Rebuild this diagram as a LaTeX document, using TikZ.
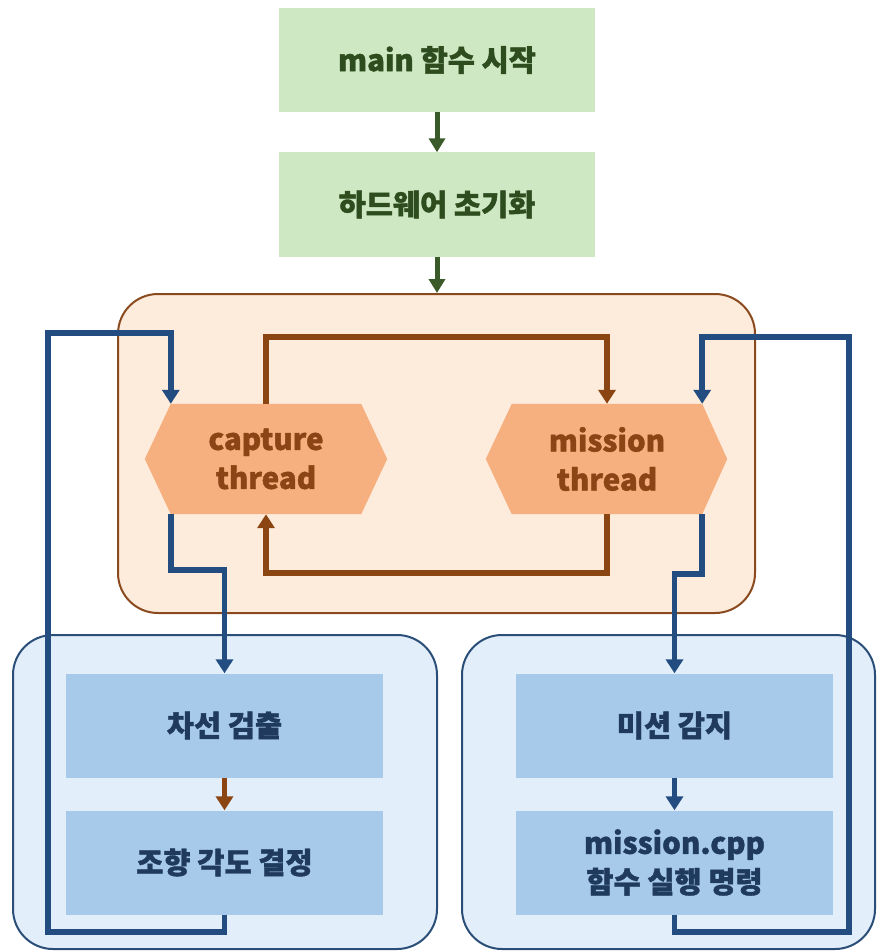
\documentclass[tikz,border=0pt]{standalone}
\usepackage{fontspec}
\setmainfont{Noto Sans CJK KR}[BoldFeatures={FakeBold=1.3}]
\usetikzlibrary{arrows.meta}
\definecolor{gfill}{HTML}{CDE8C2}
\definecolor{gtext}{HTML}{2E4D1F}
\definecolor{garrow}{HTML}{3A5A2A}
\definecolor{ofill}{HTML}{FDEBDB}
\definecolor{oborder}{HTML}{8B4A1E}
\definecolor{hexfill}{HTML}{F6B07F}
\definecolor{btext}{HTML}{8A4415}
\definecolor{barrow}{HTML}{8B4513}
\definecolor{bcfill}{HTML}{E2EEFA}
\definecolor{bcborder}{HTML}{2A4E78}
\definecolor{bbfill}{HTML}{A7C9EA}
\definecolor{bltext}{HTML}{1F3A5C}
\definecolor{blarrow}{HTML}{234D80}
\tikzset{
  txt/.style={font=\bfseries\fontsize{29.5}{39}\selectfont, align=center},
  greenbox/.style={txt, fill=gfill, text=gtext, minimum width=316pt, minimum height=104pt, inner sep=0pt},
  bluebox/.style={txt, fill=bbfill, text=bltext, minimum width=317pt, minimum height=104pt, inner sep=0pt},
  hexnode/.style={txt, text=btext, minimum width=190pt, minimum height=110pt, inner sep=0pt},
  ocont/.style={draw=oborder, fill=ofill, line width=2pt, rounded corners=40pt, inner sep=0pt},
  bcont/.style={draw=bcborder, fill=bcfill, line width=2pt, rounded corners=40pt, inner sep=0pt},
  garr/.style={draw=garrow, line width=5pt, -{Triangle[width=16pt,length=14pt]}},
  brarr/.style={draw=barrow, line width=5.5pt, -{Triangle[width=17pt,length=14pt]}},
  blarr/.style={draw=blarrow, line width=5.5pt, -{Triangle[width=17pt,length=14pt]}},
}
\begin{document}
\begin{tikzpicture}[x=1pt, y=-1pt]
\useasboundingbox (0,0) rectangle (878,952);
% containers
\node[ocont, minimum width=637pt, minimum height=319pt] (thr) at (436.5,453.5) {};
\node[bcont, minimum width=424pt, minimum height=314pt] (lc) at (225,792) {};
\node[bcont, minimum width=413pt, minimum height=314pt] (rc) at (668.5,792) {};
% green boxes
\node[greenbox] (main) at (437,60) {main 함수 시작};
\node[greenbox] (hw) at (437,204.5) {하드웨어 초기화};
% hexagons
\node[hexnode] (cap) at (266,459) {};
\node[hexnode] (mis) at (607,459) {};
\fill[hexfill] (cap.north west) -- (cap.north east) -- ([xshift=26pt]cap.east) -- (cap.south east) -- (cap.south west) -- ([xshift=-26pt]cap.west) -- cycle;
\fill[hexfill] (mis.north west) -- (mis.north east) -- ([xshift=25pt]mis.east) -- (mis.south east) -- (mis.south west) -- ([xshift=-26pt]mis.west) -- cycle;
\node[hexnode] at (cap.center) {capture\\thread};
\node[hexnode] at (mis.center) {mission\\thread};
% blue boxes
\node[bluebox] (lb1) at (224.5,725.5) {차선 검출};
\node[bluebox] (lb2) at (224.5,862.5) {조향 각도 결정};
\node[bluebox] (rb1) at (674.5,725.5) {미션 감지};
\node[bluebox] (rb2) at (674.5,862.5) {mission.cpp\\함수 실행 명령};
% coordinates
\coordinate (L1) at (48,932);
\coordinate (L2) at (48,333);
\coordinate (C1) at (224.5,570);
\coordinate (R1) at (849,932);
\coordinate (R2) at (849,337);
\coordinate (M1) at (674.5,574);
\coordinate (B1) at (266,337);
\coordinate (B2) at (607,573);
% green arrows
\draw[garr] (main.south) -- (hw.north);
\draw[garr] (hw.south) -- (hw.south |- thr.north);
% brown arrows
\draw[brarr] (cap.north) |- (B1) -| (mis.north);
\draw[brarr] (mis.south) |- (B2) -| (cap.south);
\draw[brarr] (lb1.south) -- (lb2.north);
% blue arrows
\draw[blarr] (lb2.south) |- (L1) -- (L2) -| (cap.north west);
\draw[blarr] (cap.south west) |- (C1) -- (lb1.north);
\draw[blarr] (rb2.south) |- (R1) -- (R2) -| (mis.north east);
\draw[blarr] (mis.south east) |- (M1) -- (rb1.north);
\draw[blarr] (rb1.south) -- (rb2.north);
\end{tikzpicture}
\end{document}
